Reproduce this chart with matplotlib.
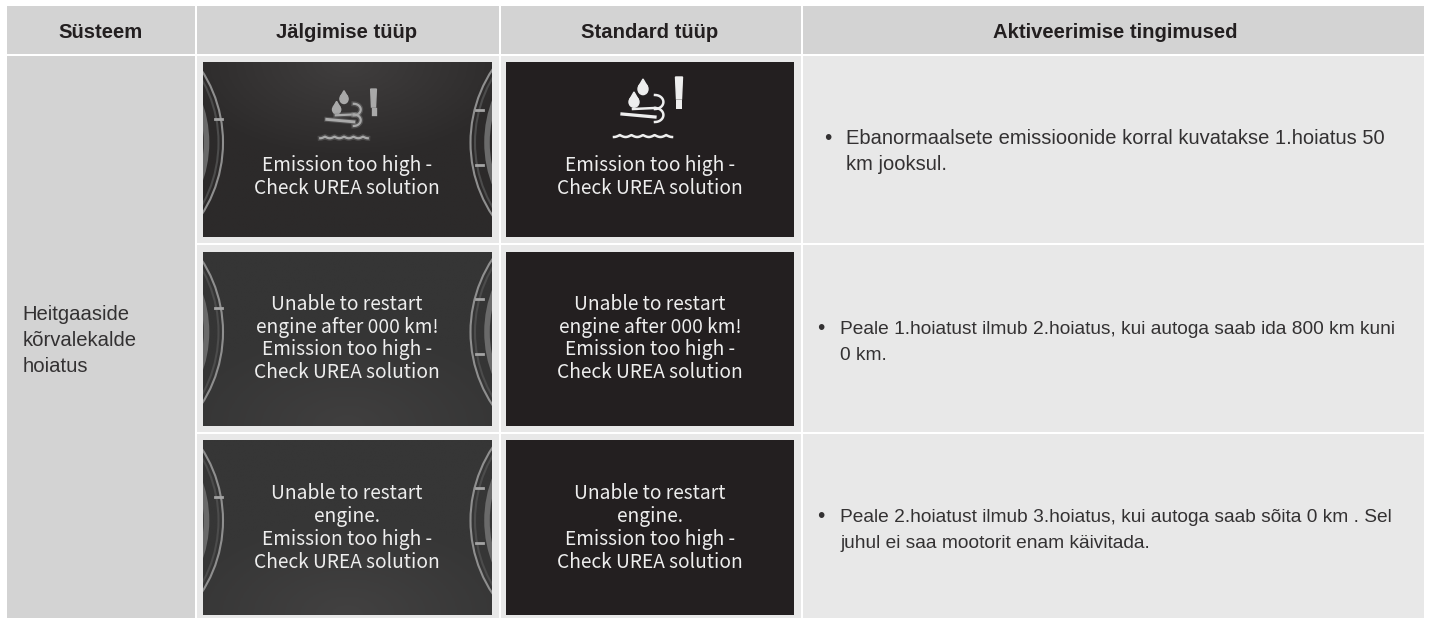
import numpy as np
import matplotlib
matplotlib.use('Agg')
import matplotlib.pyplot as plt
import matplotlib.patheffects as pe
from matplotlib.colors import to_rgb
from matplotlib.patches import Rectangle, Circle, Ellipse, Polygon

headers = ['Süsteem', 'Jälgimise tüüp', 'Standard tüüp', 'Aktiveerimise tingimused']
system_lines = ['Heitgaaside', 'kõrvalekalde', 'hoiatus']
panel_texts = [
    ['Emission too high -', 'Check UREA solution'],
    ['Unable to restart', 'engine after 000 km!', 'Emission too high -', 'Check UREA solution'],
    ['Unable to restart', 'engine.', 'Emission too high -', 'Check UREA solution'],
]
conditions = [
    ['Ebanormaalsete emissioonide korral kuvatakse 1.hoiatus 50', 'km jooksul.'],
    ['Peale 1.hoiatust ilmub 2.hoiatus, kui autoga saab ida 800 km kuni', '0 km.'],
    ['Peale 2.hoiatust ilmub 3.hoiatus, kui autoga saab sõita 0 km . Sel', 'juhul ei saa mootorit enam käivitada.'],
]

col_edges = [(7, 195), (197, 499), (501, 801), (803, 1424)]
header_x = [101, 347, 650, 1115]
row_edges = [(56, 243), (245, 432), (434, 618)]
panel_y = [(62, 237), (252, 426), (440, 615)]
follow_x = (203, 492)
standard_x = (506, 794)
# text baselines, in pixels from the top
text_y = [(171, 194), (310, 333, 355.5, 378), (499, 522, 545, 567.5)]
cond_y = [(144, 170.5), (333.5, 359.5), (521.5, 547.5)]
cond_x = [846.5, 840, 840]
bullet_x = [828, 821, 821]
cond_size = [14.5, 13.75, 13.8]
side_y = [320, 346.5, 372.5]

fig = plt.figure(figsize=(14.31, 6.18), dpi=100, facecolor='white')
ax = fig.add_axes([0, 0, 1, 1])
ax.axis('off')

HEAD = '#d3d3d3'
CELL = '#e8e8e8'
INK = '#333132'
SANS = 'Liberation Sans'
PANEL_FONT = 'Noto Sans CJK SC'


def draw_icon(cx, cy, s, color, lw, glow=None):
    # droplets, exhaust lines, waves and the exclamation mark
    fx = [pe.withStroke(linewidth=lw + 2, foreground=glow, alpha=0.35)] if glow else None
    for dx, dy, w, h in [(0, -18, 10, 15), (-9, -5, 10, 14)]:
        ax.add_patch(Ellipse((cx + dx*s, cy + dy*s + 2*s), w*s, h*s*0.75, color=color, zorder=5))
        ax.add_patch(Polygon([(cx + (dx-4)*s, cy + (dy-1)*s), (cx + (dx+4)*s, cy + (dy-1)*s),
                              (cx + dx*s, cy + (dy-8)*s)], color=color, zorder=5))
    ax.plot([cx - 10*s, cx + 12*s], [cy + 4*s, cy + 3*s], color=color, lw=lw, zorder=5, path_effects=fx)
    ax.plot([cx - 21*s, cx + 12*s], [cy + 9*s, cy + 12*s], color=color, lw=lw*1.3, zorder=5, path_effects=fx)
    t = np.linspace(-np.pi/2, np.pi/2, 20)
    for y0, r in [(-3, 7), (10, 7)]:
        ax.plot(cx + (12 + r*1.2*np.cos(t))*s, cy + (y0 + r*np.sin(t))*s, color=color, lw=lw, zorder=5, path_effects=fx)
    wx = np.linspace(-29, 29, 80)
    ax.plot(cx + wx*s, cy + (30 + 2*np.abs(np.sin(wx*np.pi/11.6)))*s, color=color, lw=lw, zorder=5, path_effects=fx)
    ax.add_patch(Polygon([(cx + 32.5*s, cy - 28*s), (cx + 39.5*s, cy - 28*s), (cx + 38.5*s, cy - 6*s), (cx + 33.5*s, cy - 6*s)],
                         color=color, zorder=5))
    ax.plot([cx + 36*s, cx + 36*s], [cy - 2*s, cy + 1*s], color=color, lw=lw*2.4, zorder=5)


def draw_gauges(x0, x1, y0, y1, mid):
    clip = Rectangle((x0, y0), x1 - x0, y1 - y0, transform=ax.transData)
    for cx in (90.5, 603):
        for r, c, lw in [(132.5, '#8f8f8f', 1.5), (128, '#4c4c4c', 1.5), (116, '#6a6a6a', 4)]:
            arc = Circle((cx, mid), r, fill=False, ec=c, lw=lw, zorder=3)
            ax.add_patch(arc)
            arc.set_clip_path(clip)
    ax.plot([215, 222], [mid - 24, mid - 24], color='#a4a4a4', lw=2, zorder=4)
    for dy in (-33, 22):
        ax.plot([476, 483], [mid + dy, mid + dy], color='#a4a4a4', lw=2, zorder=4)


# table cells
for j, (x0, x1) in enumerate(col_edges):
    ax.add_patch(Rectangle((x0, 6), x1 - x0, 48, color=HEAD, lw=0))
    ax.text(header_x[j], 37.5, headers[j], ha='center', va='baseline', family=SANS,
            fontsize=14.6, fontweight='bold', color='#231f20')
    for y0, y1 in row_edges:
        c = HEAD if j == 0 else CELL
        ax.add_patch(Rectangle((x0, y0), x1 - x0, y1 - y0, color=c, lw=0))

# first column spans the three rows
ax.add_patch(Rectangle((7, 56), 188, 562, color=HEAD, lw=0))
for line, ty in zip(system_lines, side_y):
    ax.text(22.5, ty, line, ha='left', va='baseline', family=SANS, fontsize=14.6, color=INK)

glow_colors = [('#403e3e', '#2c2a2a'), ('#403f3f', '#353535'), ('#424141', '#363636')]
for i, (y0, y1) in enumerate(panel_y):
    # soft light on the cluster photo, from the top in row 1 and the bottom otherwise
    yy, xx = np.mgrid[0:1:60j, 0:1:100j]
    cy = 0.0 if i == 0 else 1.0
    d = np.clip(np.hypot((xx - 0.5) / 0.6, (yy - cy) / 0.55), 0, 1)[..., None]
    a = np.array(to_rgb(glow_colors[i][0]))
    b = np.array(to_rgb(glow_colors[i][1]))
    ax.imshow(a * (1 - d) + b * d, extent=(follow_x[0], follow_x[1], y1, y0), aspect='auto', zorder=2)
    draw_gauges(follow_x[0], follow_x[1], y0, y1, (y0 + y1) / 2 - 7)
    ax.add_patch(Rectangle((standard_x[0], y0), standard_x[1] - standard_x[0], y1 - y0,
                           color='#231f20', lw=0, zorder=2))
    for line, ty in zip(panel_texts[i], text_y[i]):
        ax.text(347, ty, line, ha='center', va='baseline', family=PANEL_FONT, fontsize=13.8,
                color='#eeeeee', zorder=6)
        ax.text(650, ty, line, ha='center', va='baseline', family=PANEL_FONT, fontsize=13.8,
                color='#eeeeee', zorder=6)
    # conditions text with bullet
    for line, ty in zip(conditions[i], cond_y[i]):
        ax.text(cond_x[i], ty, line, ha='left', va='baseline', family=SANS, fontsize=cond_size[i], color=INK)
    ax.text(bullet_x[i], cond_y[i][0], '•', ha='center', va='baseline', family=SANS, fontsize=15, color=INK)

draw_icon(344, 112, 0.82, '#a9a9a9', 1.6, glow='#8a8a8a')
draw_icon(643, 105, 1.0, '#eeeeee', 1.8)

ax.set_xlim(0, 1431)
ax.set_ylim(618, 0)
fig.savefig('out.png', dpi=100)
plt.close(fig)
